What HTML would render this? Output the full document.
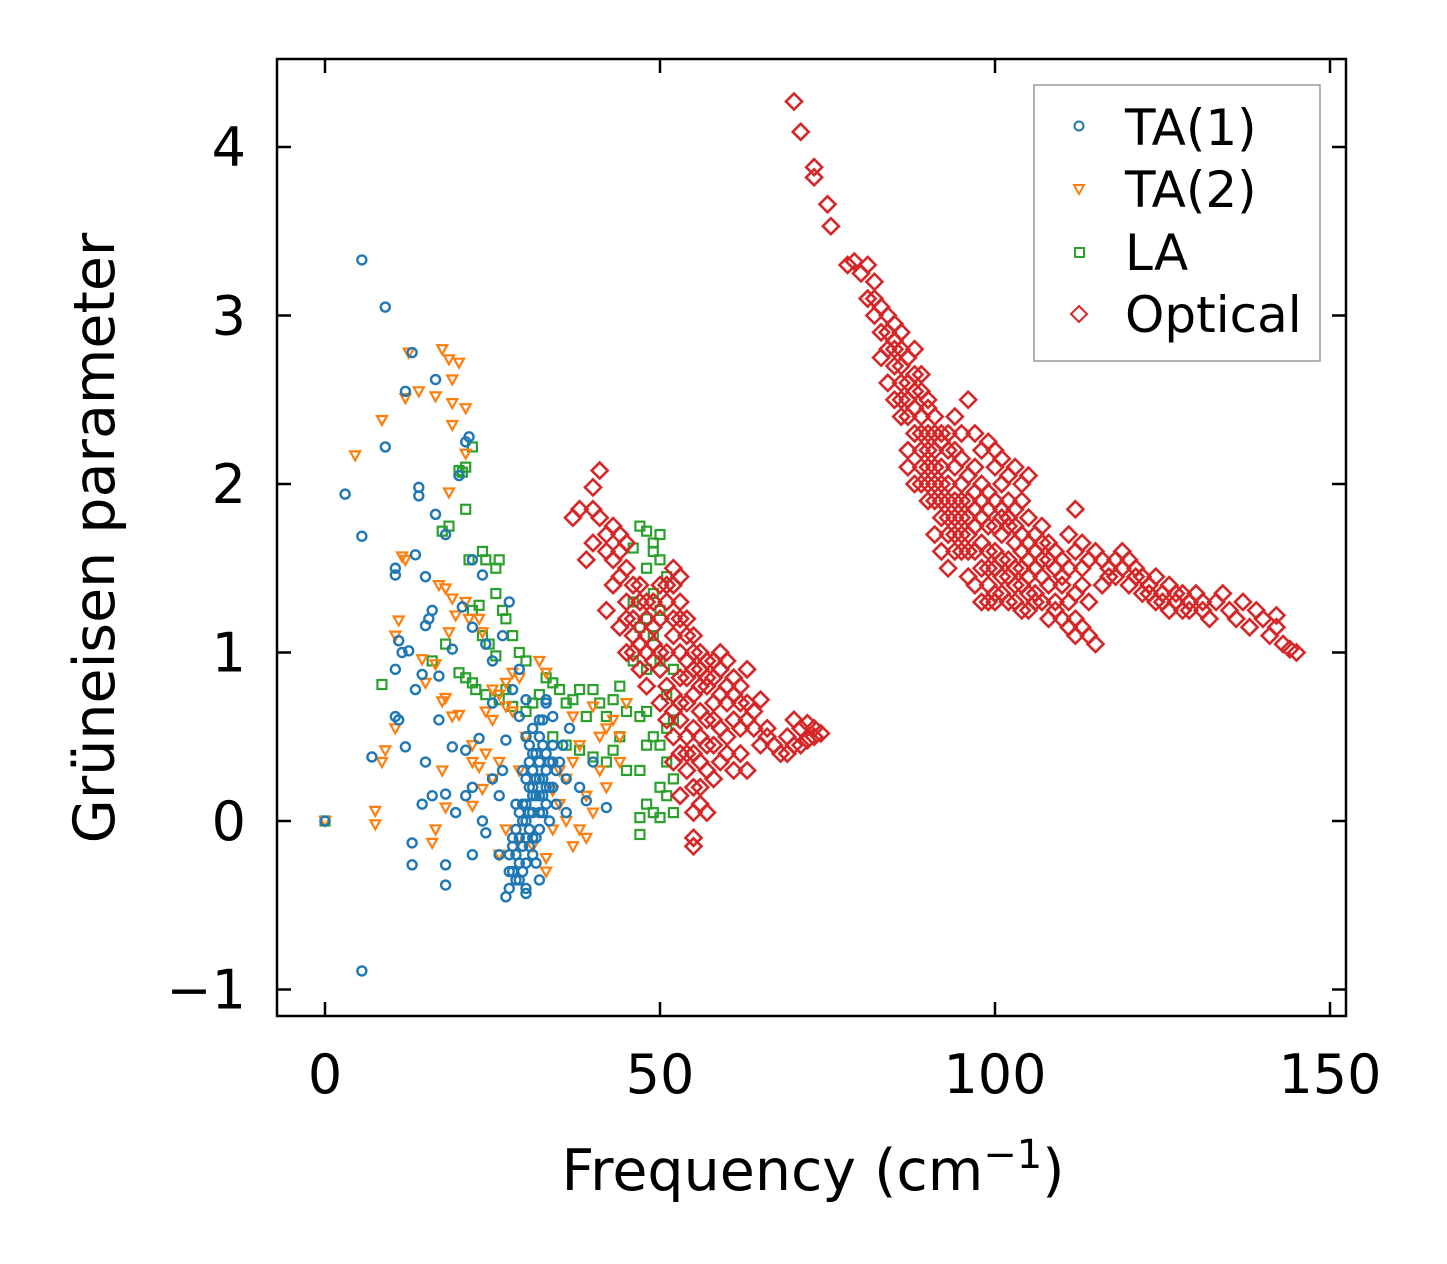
<!DOCTYPE html>
<html><head><meta charset="utf-8"><style>
html,body{margin:0;padding:0;background:#fff;}
svg{display:block;font-family:"DejaVu Sans","Liberation Sans",sans-serif;}
</style></head><body>
<svg id="chart" width="1447" height="1264" viewBox="0 0 1447 1264" xmlns="http://www.w3.org/2000/svg">
<rect width="1447" height="1264" fill="#fff"/>
<g id="marks"></g>
<rect x="277" y="59" width="1069" height="957" fill="none" stroke="#000" stroke-width="2.5"/>
<g id="axes"></g>
<text x="813" y="1190" font-size="57" text-anchor="middle">Frequency (cm<tspan dy="-22" font-size="40">−1</tspan><tspan dy="22">)</tspan></text>
<text transform="translate(114,538) rotate(-90)" font-size="57" text-anchor="middle">Grüneisen parameter</text>
<g>
<rect x="1034" y="85" width="286" height="276" fill="#fff" stroke="#999" stroke-width="1.5"/>
<circle cx="1079" cy="126" r="4.5" fill="none" stroke="#1f77b4" stroke-width="2"/>
<text x="1125" y="145" font-size="50">TA(1)</text>
<path d="M1074,185 L1084,185 L1079,194 Z" fill="none" stroke="#ff7f0e" stroke-width="2"/>
<text x="1125" y="207" font-size="50">TA(2)</text>
<rect x="1075" y="248" width="9" height="9" fill="none" stroke="#2ca02c" stroke-width="2"/>
<text x="1125" y="270" font-size="50">LA</text>
<path d="M1079,306 L1087,314 L1079,322 L1071,314 Z" fill="none" stroke="#d62728" stroke-width="2"/>
<text x="1125" y="332" font-size="50">Optical</text>
</g>
</svg>
<script>
const xTicks=[0,50,100,150];
const yTicks=[-1,0,1,2,3,4];
const ta1=[[0,0],[5.5,3.33],[9,3.05],[13,2.78],[16.5,2.62],[12,2.55],[3,1.94],[5.5,1.69],[9,2.22],[14,1.98],[14,1.93],[16.5,1.82],[20,2.05],[21,2.25],[21.5,2.28],[10.5,1.5],[10.5,1.46],[13.5,1.58],[15,1.45],[18,1.7],[22,1.55],[23.5,1.46],[15.5,1.2],[16,1.25],[15,1.16],[11,1.07],[11.5,1.0],[12.5,1.01],[13.5,0.78],[10.5,0.9],[14.5,0.87],[17,0.86],[19,1.02],[20.5,1.27],[22,1.15],[24,1.05],[25,0.95],[26.5,1.1],[27.5,1.3],[10.5,0.62],[11,0.6],[12,0.44],[7,0.38],[15,0.35],[17,0.6],[19,0.44],[21,0.42],[23,0.49],[25,0.7],[27,0.48],[16,0.15],[18,0.16],[14.5,0.1],[19.5,0.05],[21,0.15],[22,0.2],[23.5,0.0],[24,-0.07],[25,0.25],[13,-0.13],[13,-0.26],[18,-0.38],[18,-0.26],[22,-0.2],[5.5,-0.89],[27,-0.45],[27.5,-0.4],[28,-0.3],[28.5,-0.2],[29,-0.1],[29.5,0],[30,0.1],[30.5,0.2],[31,0.3],[31.5,0.4],[32,0.5],[32.5,0.6],[33,0.7],[28,-0.1],[29,0.05],[30,-0.25],[30,-0.4],[31,-0.1],[31,0.05],[32,0.15],[32,-0.05],[33,0.3],[33,0.1],[34,0.2],[34,0.45],[35,0.35],[30.5,-0.05],[29.5,-0.3],[28.5,-0.35],[27.5,-0.2],[31.5,0.15],[32.5,0.25],[33.5,0.0],[34.5,0.1],[36,0.25],[36,0.05],[38,0.2],[40,0.35],[39,0.12],[42,0.08],[36.5,0.55],[33,0.72],[34,0.62],[35.5,0.45],[30,0.5],[29,0.62],[28,0.78],[29,0.9],[30,0.72],[26,0.15],[26.5,0.3],[26,-0.2],[32,-0.35],[30,-0.43],[31,-0.2],[31.5,-0.1],[32.5,0.05],[33,0.4],[29.5,0.3],[30.5,0.35],[31,0.55],[32,0.35],[32.5,0.45],[30,0.0],[31,0.15],[30.5,-0.15],[29.5,-0.15],[32,0.25],[33.5,0.2],[34,0.35],[28.5,0.1],[29,-0.25],[28,-0.15],[30,-0.1],[31,0.2],[32,0.05],[33,0.2],[30.5,0.05],[31.5,0.25],[29.5,0.1],[30,0.25],[32.5,0.15],[31,0.4],[33.5,0.35],[34.5,0.3],[28.5,-0.05],[27.5,-0.3],[29,-0.35],[31.5,-0.25],[30.5,0.45],[32,0.6]];
const ta2=[[0,0],[4.5,2.17],[8.5,2.38],[12,2.51],[12.5,2.78],[17.5,2.8],[18.5,2.74],[20,2.72],[19,2.62],[14,2.55],[16.5,2.52],[19,2.48],[21,2.45],[21,2.18],[19,2.35],[18.5,1.95],[12,1.55],[11.5,1.57],[17,1.4],[18,1.38],[19,1.32],[21,1.3],[19.5,1.22],[21.5,1.2],[23,1.2],[23.5,1.12],[18.5,1.12],[11,1.19],[10.5,1.1],[14.5,0.96],[16.5,0.93],[15,0.82],[17.5,0.71],[18,0.73],[19,0.62],[20,0.63],[10.5,0.55],[9,0.42],[8.5,0.35],[7.5,0.06],[7.5,-0.02],[16.5,-0.05],[16,-0.13],[18,0.08],[17.5,0.3],[22,0.09],[22,0.35],[23,0.32],[23.5,0.19],[24,0.65],[25,0.6],[25,0.78],[26,0.75],[27,0.82],[27,0.68],[28,0.65],[28,0.88],[29,0.85],[32,0.95],[33,0.88],[26,-0.2],[27,-0.05],[29,-0.1],[31,-0.15],[33,-0.22],[33,-0.3],[34,-0.05],[35,0.1],[36,0.25],[37,0.35],[38,-0.05],[39,0.15],[39,-0.1],[40,0.05],[41,0.3],[42,0.55],[43,0.6],[44,0.5],[45,0.7],[38,0.45],[37,0.62],[40,0.68],[34,0.18],[35,0.3],[36,0.0],[37,-0.15],[24,0.4],[29,0.3],[30,0.5],[26,0.35],[44,0.35],[41,0.5],[42,0.2],[22,0.45],[25,0.25]];
const la=[[0,0],[8.5,0.81],[16,0.95],[18,1.05],[18.5,1.75],[17.5,1.72],[20,2.08],[20.5,2.07],[21,2.1],[22,2.22],[21,1.85],[21.5,1.55],[23.5,1.6],[24,1.55],[25.5,1.5],[26,1.55],[25.5,1.35],[26.5,1.25],[27,1.2],[22,1.25],[23,1.28],[23.5,1.1],[24.5,1.05],[25.5,0.98],[28,1.1],[29,1.0],[30,0.95],[20,0.88],[21,0.85],[22,0.82],[22.5,0.78],[24,0.75],[26,0.72],[27,0.78],[28,0.68],[30,0.65],[31,0.7],[32,0.75],[33,0.85],[34,0.82],[35,0.78],[36,0.7],[37,0.72],[38,0.78],[39,0.62],[40,0.78],[41,0.7],[42,0.62],[43,0.72],[44,0.8],[45,0.65],[44,0.5],[43,0.42],[45,0.3],[42,0.35],[40,0.38],[38,0.42],[36,0.45],[34,0.5],[46,1.62],[47,1.75],[48,1.72],[49,1.65],[50,1.55],[49,1.35],[48,1.2],[47,1.15],[49,1.1],[50,0.95],[48,0.9],[47,0.62],[48,0.65],[49,0.5],[50,0.45],[51,0.55],[52,0.6],[51,0.75],[52,0.9],[47,0.3],[48,0.1],[49,0.05],[50,0.02],[51,0.15],[52,0.25],[47,-0.08],[47,0.02],[50,0.2],[51,0.35],[46,1.3],[46,0.95],[50,1.25],[51,1.45],[48,0.45],[52,0.05],[49,1.6],[50,1.7],[48,1.5]];
const optical=[[37,1.8],[38,1.85],[40,1.98],[41,2.08],[40,1.65],[39,1.55],[42,1.6],[43,1.75],[44,1.7],[45,1.65],[44,1.45],[45,1.3],[46,1.2],[47,1.4],[48,1.3],[49,1.15],[50,1.2],[51,1.4],[52,1.5],[53,1.45],[52,1.2],[51,1.0],[53,1.0],[54,0.95],[55,0.9],[56,1.0],[57,0.95],[58,0.85],[59,0.9],[60,0.95],[61,0.85],[62,0.8],[63,0.7],[64,0.55],[65,0.45],[66,0.5],[67,0.45],[68,0.4],[69,0.5],[70,0.6],[71,0.55],[72,0.58],[73,0.55],[74,0.52],[46,1.0],[47,0.9],[48,0.8],[50,0.7],[51,0.6],[52,0.5],[53,0.4],[54,0.3],[55,0.2],[56,0.1],[55,-0.1],[55,-0.15],[57,0.05],[58,0.25],[59,0.35],[60,0.5],[61,0.6],[62,0.4],[63,0.3],[60,0.7],[57,0.8],[56,0.65],[55,0.55],[54,0.7],[53,0.85],[58,0.6],[59,0.75],[61,0.3],[57,0.45],[56,0.35],[54,0.5],[52,0.75],[49,0.95],[47,1.05],[45,1.0],[43,1.4],[42,1.25],[44,1.15],[48,1.0],[50,0.9],[63,0.9],[65,0.72],[66,0.55],[70,0.45],[72,0.48],[54,1.2],[55,1.1],[53,0.15],[52,0.35],[70,4.27],[71,4.09],[73,3.88],[73,3.82],[75,3.66],[75.5,3.53],[78,3.3],[79,3.32],[80,3.25],[81,3.3],[82,3.2],[81,3.1],[82,3.0],[83,2.9],[84,3.0],[85,2.95],[86,2.9],[84,2.8],[85,2.7],[86,2.6],[87,2.75],[88,2.8],[89,2.65],[90,2.5],[86,2.5],[87,2.4],[88,2.3],[89,2.2],[90,2.1],[91,2.0],[92,1.9],[93,1.8],[88,2.55],[89,2.4],[90,2.3],[91,2.2],[92,2.1],[93,2.0],[94,1.9],[95,1.8],[96,1.7],[91,2.4],[92,2.3],[93,2.2],[94,2.1],[95,2.0],[96,1.9],[97,2.1],[98,2.0],[99,1.95],[100,2.1],[101,2.0],[102,1.9],[103,1.85],[104,1.9],[105,1.8],[106,1.7],[107,1.75],[108,1.65],[97,1.6],[98,1.5],[99,1.4],[100,1.3],[101,1.45],[102,1.55],[103,1.5],[104,1.4],[105,1.35],[106,1.3],[107,1.45],[108,1.4],[109,1.3],[110,1.2],[111,1.15],[112,1.1],[113,1.15],[114,1.1],[115,1.05],[109,1.6],[110,1.55],[111,1.7],[112,1.85],[113,1.65],[114,1.55],[115,1.6],[116,1.55],[117,1.5],[118,1.55],[119,1.6],[120,1.55],[121,1.5],[122,1.45],[123,1.4],[124,1.45],[125,1.35],[126,1.4],[127,1.3],[128,1.25],[129,1.3],[130,1.35],[131,1.25],[132,1.2],[133,1.3],[134,1.35],[135,1.25],[136,1.2],[137,1.3],[138,1.15],[139,1.25],[140,1.2],[141,1.1],[142,1.15],[143,1.05],[144,1.02],[145,1.0],[142,1.22],[96,2.5],[95,2.3],[94,2.4],[97,2.3],[98,2.2],[99,2.25],[100,2.2],[101,2.15],[102,2.05],[103,2.1],[104,2.0],[105,2.05],[95,1.6],[94,1.7],[93,1.5],[96,1.45],[98,1.3],[100,1.35],[102,1.3],[104,1.25],[106,1.35],[108,1.2],[100,1.6],[101,1.7],[102,1.75],[103,1.65],[104,1.6],[105,1.55],[106,1.5],[107,1.55],[99,1.75],[98,1.8],[97,1.85],[96,2.05],[89,2.0],[90,1.9],[91,1.7],[92,1.6],[87,2.1],[88,2.0],[110,1.4],[112,1.35],[113,1.4],[114,1.3],[116,1.4],[118,1.45],[120,1.4],[122,1.35],[124,1.3],[126,1.25],[128,1.35],[85,2.85],[86,2.8],[87,2.6],[88,2.45],[89,2.55],[90,2.45],[91,2.3],[92,2.25],[93,2.3],[94,2.2],[95,2.15],[83,2.75],[84,2.6],[85,2.5],
[82,3.1],[83,3.05],[84,2.9],[85,2.8],[86,2.7],[87,2.5],[88,2.65],[89,2.3],[90,2.2],[91,2.1],[92,2.0],[93,1.9],[94,1.8],[95,1.9],[96,1.8],[97,1.95],[98,1.9],[99,1.85],[100,1.9],[101,1.85],[102,1.8],[103,1.75],[104,1.7],[105,1.65],[106,1.6],[107,1.65],[108,1.55],[109,1.5],[110,1.45],[111,1.5],[112,1.6],[113,1.5],[97,1.75],[98,1.65],[99,1.6],[100,1.5],[101,1.55],[102,1.45],[103,1.4],[104,1.5],[105,1.45],[99,1.5],[100,1.75],[101,1.8],[96,1.6],[97,1.4],[99,1.3],[101,1.35],[103,1.3],[105,1.25],[107,1.3],[109,1.25],[111,1.3],[112,1.2],[87,2.2],[86,2.4],[89,2.1],[90,2.0],[91,1.9],[92,1.8],[93,1.7],[94,1.6],[95,1.7],[117,1.45],[119,1.5],[121,1.45],[123,1.35],[125,1.3],[127,1.35],[129,1.25],[131,1.3],
[44,1.6],[45,1.5],[46,1.4],[47,1.3],[48,1.2],[49,1.3],[50,1.4],[51,1.3],[52,1.1],[53,1.3],[52,1.4],[53,1.2],[54,1.1],[55,1.0],[56,0.9],[57,0.85],[58,0.95],[59,1.0],[60,0.8],[61,0.75],[62,0.7],[58,0.7],[57,0.6],[56,0.5],[55,0.4],[54,0.4],[53,0.6],[52,0.65],[51,0.8],[50,1.0],[49,1.05],[48,1.1],[55,0.75],[56,0.8],[54,0.85],[53,0.7],[57,0.3],[56,0.2],[55,0.05],[58,0.45],[59,0.55],[60,0.4],[64,0.65],[63,0.6],[62,0.55],[71,0.45],[73,0.5],[69,0.4],[46,1.1],[45,1.2],[43,1.55],[42,1.7],[41,1.8],[40,1.85]];

const NS='http://www.w3.org/2000/svg';
function sx(v){return 325+(v-0)*(1330-325)/150;}
function sy(v){return 821-(v-0)*(821-147)/4;}
const marks=document.getElementById('marks');
const axes=document.getElementById('axes');
function mk(tag,attrs,parent){const e=document.createElementNS(NS,tag);for(const k in attrs)e.setAttribute(k,attrs[k]);parent.appendChild(e);return e;}

la.forEach(p=>{const e=mk('rect',{x:sx(p[0])-4.5,y:sy(p[1])-4.5,width:9,height:9,fill:'none',stroke:'#2ca02c','stroke-width':2.2},marks);

});
ta2.forEach(p=>{const x=sx(p[0]),y=sy(p[1]);const e=mk('path',{d:`M${x-5},${y-4} L${x+5},${y-4} L${x},${y+5} Z`,fill:'none',stroke:'#ff7f0e','stroke-width':2.2},marks);

});
ta1.forEach(p=>{const e=mk('circle',{cx:sx(p[0]),cy:sy(p[1]),r:4.5,fill:'none',stroke:'#1f77b4','stroke-width':2.4},marks);

});
optical.forEach(p=>{const x=sx(p[0]),y=sy(p[1]);const e=mk('path',{d:`M${x},${y-8} L${x+8},${y} L${x},${y+8} L${x-8},${y} Z`,fill:'none',stroke:'#d62728','stroke-width':2.6},marks);

});

xTicks.forEach(t=>{const x=sx(t);
const a=mk('line',{x1:x,y1:1016,x2:x,y2:1002,stroke:'#000','stroke-width':2.5},axes);


const b=mk('line',{x1:x,y1:59,x2:x,y2:73,stroke:'#000','stroke-width':2.5},axes);


const l=mk('text',{x:x,y:1093,'font-size':54,'text-anchor':'middle'},axes);l.textContent=String(t);

});
yTicks.forEach(t=>{const y=sy(t);
const a=mk('line',{x1:277,y1:y,x2:291,y2:y,stroke:'#000','stroke-width':2.5},axes);


const b=mk('line',{x1:1346,y1:y,x2:1332,y2:y,stroke:'#000','stroke-width':2.5},axes);


const l=mk('text',{x:246,y:y+19,'font-size':54,'text-anchor':'end'},axes);l.textContent=t<0?'−'+Math.abs(t):String(t);

});
</script>
</body></html>
